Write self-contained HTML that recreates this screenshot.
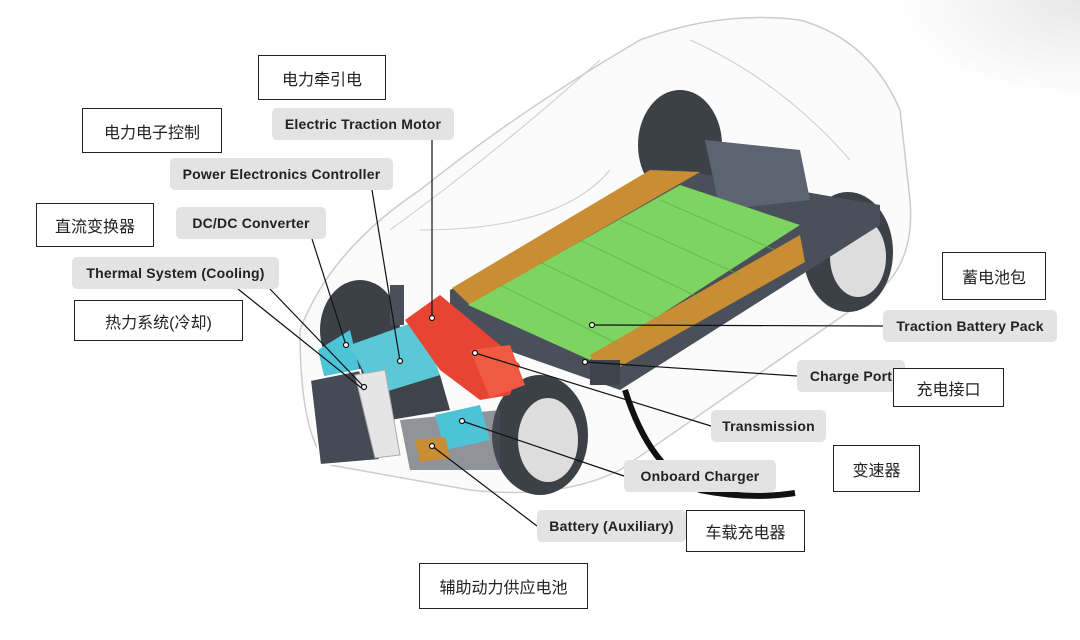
<!DOCTYPE html>
<html><head><meta charset="utf-8"><style>
body{margin:0;width:1080px;height:640px;background:#fff;position:relative;overflow:hidden;font-family:"Liberation Sans","Noto Sans CJK SC",sans-serif}
.cn{position:absolute;border:1.5px solid #222;background:#fff;font-size:16px;color:#222;display:flex;align-items:center;justify-content:center;box-sizing:border-box}
.pill{position:absolute;background:#e3e3e3;border-radius:5px;font-size:14px;font-weight:bold;color:#222;display:flex;align-items:center;justify-content:center;box-sizing:border-box;letter-spacing:.2px}
svg{position:absolute;left:0;top:0}
</style></head><body>
<svg width="1080" height="640">
<defs><radialGradient id="g" cx="1" cy="0" r="0.5"><stop offset="0" stop-color="#e8e8e8"/><stop offset="1" stop-color="#fff"/></radialGradient></defs>
<rect x="700" y="0" width="380" height="200" fill="url(#g)"/>
<path d="M300 330 Q330 250 420 190 Q520 110 640 40 Q720 10 800 20 Q870 40 900 110 L910 200 Q915 260 880 290 L620 470 Q560 500 470 490 L330 465 Q300 440 300 330Z" fill="#fbfbfb" stroke="#ccc" stroke-width="1.5"/>
<path d="M390 230 Q500 150 600 60 M420 230 Q560 230 610 170 M690 40 Q780 80 850 160" fill="none" stroke="#ccc"/>
<ellipse cx="680" cy="145" rx="42" ry="55" fill="#3c4047"/>
<ellipse cx="848" cy="252" rx="45" ry="60" fill="#3c4047"/>
<ellipse cx="858" cy="257" rx="28" ry="40" fill="#ddd"/>
<polygon points="450,290 680,170 880,205 880,225 620,390 450,330" fill="#4a5059"/>
<polygon points="705,140 800,150 810,200 720,210" fill="#5b6470"/>
<polygon points="452,288 650,170 700,172 470,305" fill="#c98d33"/>
<polygon points="468,305 680,185 800,225 590,360" fill="#7ed460"/>
<polygon points="590,355 800,235 805,262 600,378" fill="#c98d33"/>
<g stroke="#5cb040" stroke-width="1" opacity=".7">
<line x1="500" y1="285" x2="620" y2="345"/><line x1="540" y1="262" x2="660" y2="320"/><line x1="580" y1="240" x2="700" y2="298"/><line x1="620" y1="220" x2="740" y2="275"/><line x1="660" y1="200" x2="775" y2="250"/>
</g>
<ellipse cx="360" cy="330" rx="40" ry="50" fill="#3c4047"/>
<ellipse cx="540" cy="435" rx="48" ry="60" fill="#3c4047"/>
<ellipse cx="548" cy="440" rx="30" ry="42" fill="#ddd"/>
<rect x="390" y="285" width="14" height="40" fill="#4a5059"/>
<polygon points="318,350 350,330 360,372 325,380" fill="#4cc3d6"/>
<polygon points="350,345 420,320 440,375 375,395" fill="#5bc8d8"/>
<polygon points="375,395 440,375 450,410 390,420" fill="#3e444c"/>
<polygon points="405,320 440,295 470,320 500,345 520,365 510,395 480,400 440,370" fill="#e84434"/>
<polygon points="470,350 510,345 525,385 490,398" fill="#f05a40"/>
<polygon points="310,380 360,370 380,460 320,465" fill="#444b55" stroke="#fff" stroke-width="2"/>
<polygon points="355,375 385,370 400,455 375,458" fill="#e5e5e5" stroke="#aaa"/>
<polygon points="400,420 500,410 500,470 410,470" fill="#4a5059" opacity=".6"/>
<polygon points="435,415 480,405 490,440 445,450" fill="#4cc3d6"/>
<polygon points="415,440 445,437 450,458 420,462" fill="#c98d33"/>
<rect x="590" y="360" width="30" height="25" fill="#3e444c"/>
<path d="M625 390 Q650 470 700 490 Q750 500 795 493" fill="none" stroke="#111" stroke-width="6"/>
<g stroke="#111" stroke-width="1.2" fill="#fff">
<line x1="432" y1="140" x2="432" y2="318"/>
<line x1="372" y1="190" x2="400" y2="361"/>
<line x1="312" y1="239" x2="346" y2="345"/>
<line x1="270" y1="289" x2="364" y2="387"/>
<line x1="238" y1="289" x2="364" y2="390"/>
<line x1="883" y1="326" x2="592" y2="325"/>
<line x1="797" y1="376" x2="585" y2="362"/>
<line x1="711" y1="426" x2="475" y2="353"/>
<line x1="624" y1="476" x2="462" y2="421"/>
<line x1="537" y1="526" x2="432" y2="446"/>
<circle cx="432" cy="318" r="2.5"/><circle cx="400" cy="361" r="2.5"/><circle cx="346" cy="345" r="2.5"/><circle cx="364" cy="387" r="2.5"/><circle cx="592" cy="325" r="2.5"/><circle cx="585" cy="362" r="2.5"/><circle cx="475" cy="353" r="2.5"/><circle cx="462" cy="421" r="2.5"/><circle cx="432" cy="446" r="2.5"/>
</g>
</svg>
<div class="pill" style="left:272px;top:108px;width:182px;height:32px">Electric Traction Motor</div>
<div class="pill" style="left:170px;top:158px;width:223px;height:32px">Power Electronics Controller</div>
<div class="pill" style="left:176px;top:207px;width:150px;height:32px">DC/DC Converter</div>
<div class="pill" style="left:72px;top:257px;width:207px;height:32px">Thermal System (Cooling)</div>
<div class="pill" style="left:883px;top:310px;width:174px;height:32px">Traction Battery Pack</div>
<div class="pill" style="left:797px;top:360px;width:108px;height:32px">Charge Port</div>
<div class="pill" style="left:711px;top:410px;width:115px;height:32px">Transmission</div>
<div class="pill" style="left:624px;top:460px;width:152px;height:32px">Onboard Charger</div>
<div class="pill" style="left:537px;top:510px;width:149px;height:32px">Battery (Auxiliary)</div>
<div class="cn" style="left:258px;top:55px;width:128px;height:45px">电力牵引电</div>
<div class="cn" style="left:82px;top:108px;width:140px;height:45px">电力电子控制</div>
<div class="cn" style="left:36px;top:203px;width:118px;height:44px">直流变换器</div>
<div class="cn" style="left:74px;top:300px;width:169px;height:41px">热力系统(冷却)</div>
<div class="cn" style="left:942px;top:252px;width:104px;height:48px">蓄电池包</div>
<div class="cn" style="left:893px;top:368px;width:111px;height:39px">充电接口</div>
<div class="cn" style="left:833px;top:445px;width:87px;height:47px">变速器</div>
<div class="cn" style="left:686px;top:510px;width:119px;height:42px">车载充电器</div>
<div class="cn" style="left:419px;top:563px;width:169px;height:46px">辅助动力供应电池</div>
</body></html>
